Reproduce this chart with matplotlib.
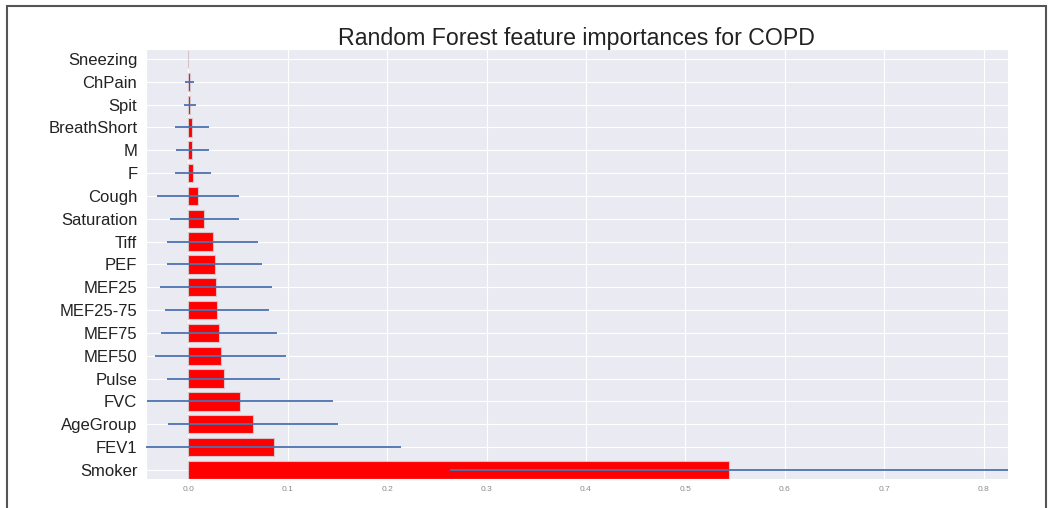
import matplotlib
matplotlib.use("Agg")
import matplotlib.pyplot as plt
from matplotlib.patches import Rectangle
import seaborn as sns

# bottom to top, as drawn
features = ["Smoker", "FEV1", "AgeGroup", "FVC", "Pulse", "MEF50", "MEF75",
            "MEF25-75", "MEF25", "PEF", "Tiff", "Saturation", "Cough", "F",
            "M", "BreathShort", "Spit", "ChPain", "Sneezing"]
importances = [0.544, 0.0859, 0.0654, 0.0517, 0.0356, 0.0325, 0.031, 0.029,
               0.028, 0.0265, 0.0245, 0.016, 0.010, 0.005, 0.004, 0.0037,
               0.002, 0.0015, 0.0]
std = [0.281, 0.128, 0.0856, 0.0936, 0.057, 0.066, 0.058, 0.0525, 0.0565,
       0.048, 0.0455, 0.0346, 0.041, 0.018, 0.0168, 0.0175, 0.006, 0.0045,
       0.0]
x_ticks = [0.0, 0.1, 0.2, 0.3, 0.4, 0.5, 0.6, 0.7, 0.8]


def main():
    sns.set_style("darkgrid")
    plt.rcParams["font.family"] = ["Liberation Sans", "DejaVu Sans"]

    fig = plt.figure(figsize=(10.51, 5.08), dpi=100)
    ax = fig.add_axes([0.1386, 0.0571, 0.8202, 0.847])

    pos = range(len(features))
    ax.barh(pos, importances, height=0.8, color="red",
            edgecolor="#d8c4c8", linewidth=0.8, zorder=2)
    ax.errorbar(importances, pos, xerr=std, fmt="none",
                ecolor="#4C72B0", elinewidth=1.3, capsize=0, zorder=3)

    ax.set_yticks(list(pos))
    ax.set_yticklabels(features, fontsize=12, color="#222222")
    ax.set_xticks(x_ticks)
    ax.set_xticklabels([str(t) for t in x_ticks], fontsize=6, color="#8a8a8a")
    ax.tick_params(axis="both", length=0)
    ax.tick_params(axis="y", pad=6)
    ax.tick_params(axis="x", pad=5)
    ax.set_xlim(-0.0429, 0.8243)
    ax.set_ylim(-0.4, 18.45)
    ax.set_title("Random Forest feature importances for COPD",
                 fontsize=16.7, color="#222222", pad=3)

    # outer frame of the figure
    fig.add_artist(Rectangle((0.0067, -0.2), 0.9881, 1.188,
                             transform=fig.transFigure, fill=False,
                             edgecolor="#555555", linewidth=1.5))

    fig.savefig("out.png", dpi=100)


if __name__ == "__main__":
    main()
